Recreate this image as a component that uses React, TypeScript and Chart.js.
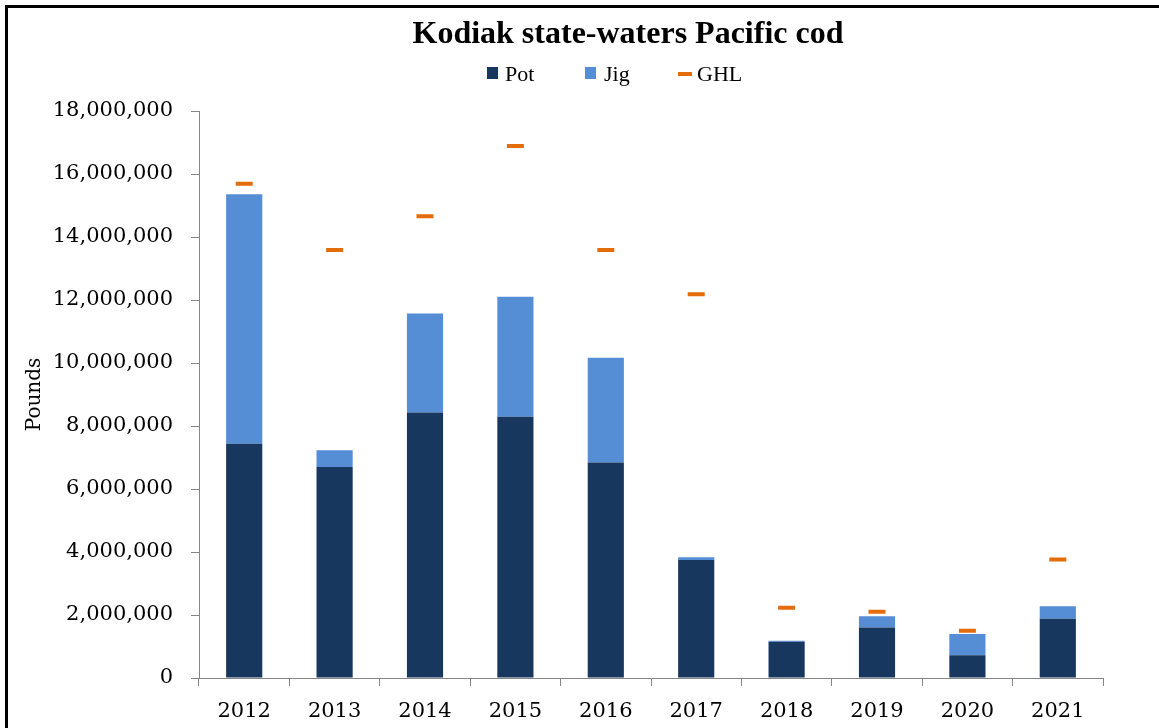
import React, { useEffect, useRef } from 'react';
import { Chart, registerables } from 'chart.js';

Chart.register(...registerables);

const years = ['2012', '2013', '2014', '2015', '2016', '2017', '2018', '2019', '2020', '2021'];
const potValues = [7440000, 6700000, 8430000, 8290000, 6840000, 3750000, 1150000, 1600000, 720000, 1880000];
const jigValues = [7920000, 530000, 3140000, 3810000, 3330000, 80000, 30000, 360000, 680000, 400000];
const ghlValues = [15690000, 13590000, 14660000, 16890000, 13590000, 12180000, 2230000, 2100000, 1500000, 3760000];

const seriesNames = ['Pot', 'Jig', 'GHL'];
const titleText = 'Kodiak state-waters Pacific cod';
const yAxisTitle = 'Pounds';
const yMin = 0;
const yMax = 18000000;
const yStep = 2000000;

const POT = '#17375E';
const JIG = '#558ED5';
const GHL = '#E46C0A';
const AXIS = '#868686';
const SERIF = "'DejaVu Serif', serif";
const LEG_SERIF = "'Liberation Serif', serif";

export default function App() {
  const ref = useRef<HTMLCanvasElement>(null);

  useEffect(() => {
    const chart = new Chart(ref.current as HTMLCanvasElement, {
      type: 'bar',
      data: {
        labels: years,
        datasets: [
          {
            type: 'bar',
            label: seriesNames[0],
            data: potValues,
            backgroundColor: POT,
            stack: 'catch',
            order: 1,
            categoryPercentage: 0.4,
            barPercentage: 1,
          },
          {
            type: 'bar',
            label: seriesNames[1],
            data: jigValues,
            backgroundColor: JIG,
            stack: 'catch',
            order: 1,
            categoryPercentage: 0.4,
            barPercentage: 1,
          },
          {
            type: 'line',
            label: seriesNames[2],
            data: ghlValues,
            showLine: false,
            stack: 'ghl',
            order: 0,
            pointStyle: 'line',
            pointRadius: 8.5,
            pointHoverRadius: 8.5,
            pointBorderWidth: 4,
            pointBorderColor: GHL,
            pointBackgroundColor: GHL,
            borderColor: GHL,
            backgroundColor: GHL,
          },
        ] as any,
      },
      options: {
        animation: false,
        responsive: false,
        devicePixelRatio: 1,
        events: [],
        layout: { padding: { left: 20, right: 56, top: 111, bottom: 0 } },
        plugins: {
          title: { display: false },
          legend: { display: false },
          tooltip: { enabled: false },
        },
        scales: {
          x: {
            stacked: true,
            grid: { display: true, drawOnChartArea: false, drawTicks: true, tickLength: 8, color: AXIS, offset: true },
            border: { display: true, color: AXIS, width: 1 },
            ticks: { color: '#000', font: { family: SERIF, size: 21 }, padding: 13, maxRotation: 0 },
            afterFit: (s: any) => {
              s.height = 50;
            },
          },
          y: {
            stacked: true,
            min: yMin,
            max: yMax,
            ticks: {
              stepSize: yStep,
              color: '#000',
              font: { family: SERIF, size: 21 },
              padding: 18,
              callback: (v: any) => Number(v).toLocaleString('en-US'),
            },
            grid: { display: true, drawOnChartArea: false, drawTicks: true, tickLength: 8, color: AXIS },
            border: { display: true, color: AXIS, width: 1 },
            title: {
              display: true,
              text: yAxisTitle,
              color: '#000',
              font: { family: SERIF, size: 20 },
              padding: { top: 3, bottom: 0 },
            },
            afterFit: (s: any) => {
              s.width = 179;
            },
          },
        },
      } as any,
    });
    return () => chart.destroy();
  }, []);

  const legendItems = [
    { name: seriesNames[0], color: POT, kind: 'box', markerLeft: 487, textLeft: 505 },
    { name: seriesNames[1], color: JIG, kind: 'box', markerLeft: 585, textLeft: 604 },
    { name: seriesNames[2], color: GHL, kind: 'dash', markerLeft: 678, textLeft: 697 },
  ];

  return (
    <div style={{ position: 'fixed', left: 0, top: 0, width: 1159, height: 728, background: '#fff', overflow: 'hidden' }}>
      <canvas ref={ref} width={1159} height={728} style={{ display: 'block', width: 1159, height: 728 }} />
      <div
        style={{
          position: 'absolute',
          left: 628,
          top: 16,
          transform: 'translateX(-50%)',
          whiteSpace: 'nowrap',
          fontFamily: LEG_SERIF,
          fontWeight: 'bold',
          fontSize: 32,
          lineHeight: '32px',
          color: '#000',
        }}
      >
        {titleText}
      </div>
      {legendItems.map((it) => (
        <React.Fragment key={it.name}>
          <div
            style={
              it.kind === 'box'
                ? { position: 'absolute', left: it.markerLeft, top: 67, width: 11, height: 12, background: it.color }
                : { position: 'absolute', left: it.markerLeft, top: 72, width: 14, height: 4, background: it.color }
            }
          />
          <div
            style={{
              position: 'absolute',
              left: it.textLeft,
              top: 63,
              whiteSpace: 'nowrap',
              fontFamily: LEG_SERIF,
              fontSize: 22,
              lineHeight: '22px',
              color: '#000',
            }}
          >
            {it.name}
          </div>
        </React.Fragment>
      ))}
      <div
        style={{
          position: 'absolute',
          left: 5,
          top: 5,
          right: 0,
          bottom: 0,
          borderTop: '3px solid #000',
          borderLeft: '3px solid #000',
          pointerEvents: 'none',
        }}
      />
    </div>
  );
}
